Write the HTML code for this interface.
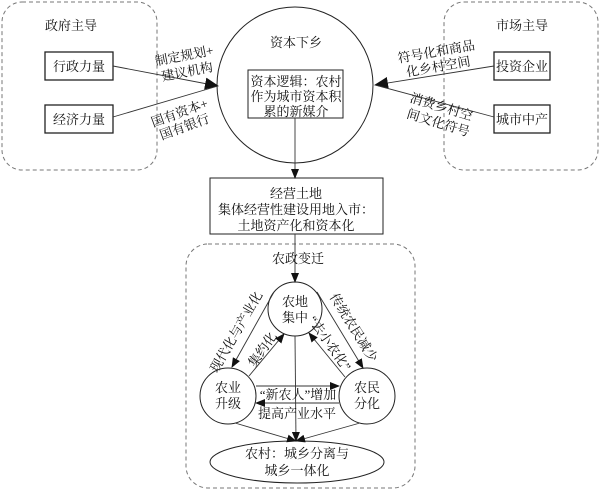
<!DOCTYPE html>
<html><head><meta charset="utf-8"><style>
body{margin:0;background:#fff}
svg{display:block}
text{font-family:"Liberation Serif","Noto Serif CJK SC","Noto Sans CJK SC",serif;font-size:13px;fill:#111;text-anchor:middle}
</style></head><body>
<svg width="600" height="492" viewBox="0 0 600 492" xmlns="http://www.w3.org/2000/svg">
<defs>
<marker id="a" markerWidth="10" markerHeight="8" refX="9" refY="4" orient="auto" markerUnits="userSpaceOnUse"><path d="M0,0 L10,4 L0,8 z" fill="#111"/></marker>
<marker id="b" markerWidth="14" markerHeight="12" refX="13" refY="6" orient="auto" markerUnits="userSpaceOnUse"><path d="M0,0 L14,6 L0,12 z" fill="#111"/></marker>
</defs>
<g fill="none" stroke="#777" stroke-dasharray="4,3" stroke-width="1">
<rect x="2" y="2" width="155" height="168" rx="20"/>
<rect x="444" y="2" width="154" height="168" rx="20"/>
<rect x="186" y="244" width="229" height="244" rx="22"/>
</g>
<g fill="none" stroke="#222" stroke-width="1">
<rect x="45" y="52" width="68" height="28" stroke-width="1.3"/>
<rect x="45" y="105" width="68" height="28" stroke-width="1.3"/>
<rect x="494" y="52" width="56" height="28" stroke-width="1.3"/>
<rect x="494" y="105" width="56" height="28" stroke-width="1.3"/>
<circle cx="295" cy="85" r="78"/>
<rect x="248" y="70" width="95" height="48"/>
<rect x="210" y="178" width="173" height="56"/>
<circle cx="295" cy="309" r="27"/>
<circle cx="228" cy="396" r="28"/>
<circle cx="367" cy="396" r="28"/>
<ellipse cx="297" cy="462" rx="87" ry="21"/>
</g>
<g stroke="#333" stroke-width="0.9" fill="none">
<line x1="113" y1="66" x2="218" y2="86" marker-end="url(#b)"/>
<line x1="113" y1="117" x2="218" y2="86"/>
<line x1="494" y1="66" x2="375" y2="85" marker-end="url(#b)"/>
<line x1="494" y1="117" x2="375" y2="85"/>
<line x1="295" y1="118" x2="295" y2="178" marker-end="url(#a)"/>
<line x1="295" y1="234" x2="295" y2="282" marker-end="url(#a)"/>
<line x1="274" y1="292" x2="232" y2="367" marker-end="url(#a)"/>
<line x1="249" y1="376" x2="284" y2="334" marker-end="url(#a)"/>
<line x1="317" y1="292" x2="363" y2="368" marker-end="url(#a)"/>
<line x1="345" y1="377" x2="309" y2="333" marker-end="url(#a)"/>
<line x1="256" y1="386" x2="339" y2="386" marker-end="url(#a)"/>
<line x1="339" y1="403" x2="256" y2="403" marker-end="url(#a)"/>
<line x1="295" y1="336" x2="296" y2="441" marker-end="url(#a)"/>
<line x1="235" y1="423" x2="296" y2="441" marker-end="url(#a)"/>
<line x1="360" y1="423" x2="296" y2="441" marker-end="url(#a)"/>
</g>
<text x="71" y="30">政府主导</text>
<text x="79" y="71">行政力量</text>
<text x="79" y="124">经济力量</text>
<text x="522" y="30">市场主导</text>
<text x="522" y="71">投资企业</text>
<text x="522" y="124">城市中产</text>
<text x="296" y="47">资本下乡</text>
<text x="296" y="86">资本逻辑：农村</text>
<text x="296" y="101">作为城市资本积</text>
<text x="296" y="116">累的新媒介</text>
<text transform="translate(185,60) rotate(-11)">制定规划+</text>
<text transform="translate(188,76) rotate(-11)">建议机构</text>
<text transform="translate(181,117) rotate(-20)">国有资本+</text>
<text transform="translate(186,131) rotate(-20)">国有银行</text>
<text transform="translate(437,56) rotate(-10)">符号化和商品</text>
<text transform="translate(439,71) rotate(-10)">化乡村空间</text>
<text transform="translate(440,111) rotate(17)">消费乡村空</text>
<text transform="translate(437,127) rotate(17)">间文化符号</text>
<text x="296" y="198">经营土地</text>
<text x="296" y="214">集体经营性建设用地入市：</text>
<text x="296" y="230">土地资产化和资本化</text>
<text x="298" y="263">农政变迁</text>
<text x="295" y="306">农地</text>
<text x="295" y="322">集中</text>
<text x="228" y="392">农业</text>
<text x="228" y="408">升级</text>
<text x="367" y="392">农民</text>
<text x="367" y="408">分化</text>
<text x="297" y="458">农村：城乡分离与</text>
<text x="297" y="475">城乡一体化</text>
<text x="298" y="399">“新农人”增加</text>
<text x="297" y="418">提高产业水平</text>
<text transform="translate(240,334) rotate(-60)">现代化与产业化</text>
<text transform="translate(266,352) rotate(-55)">集约化</text>
<text transform="translate(350,330) rotate(58)">传统农民减少</text>
<text transform="translate(326,346) rotate(55)">“去小农化”</text>
</svg>
</body></html>
